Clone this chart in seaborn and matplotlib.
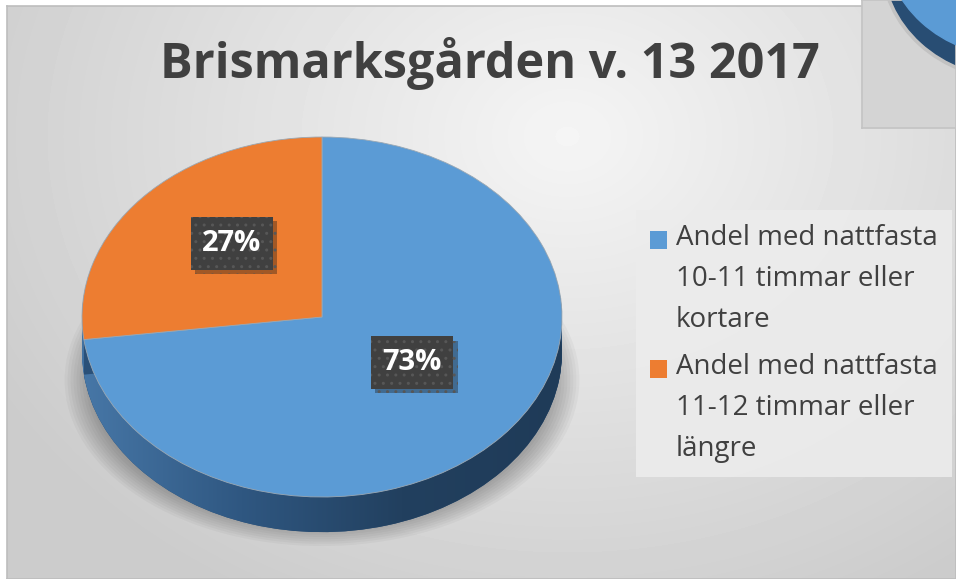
import matplotlib
matplotlib.use("Agg")
import matplotlib.pyplot as plt
import matplotlib.patheffects as pe
import matplotlib.transforms as mtransforms
import numpy as np
import seaborn as sns
from matplotlib.colors import LinearSegmentedColormap
from matplotlib.patches import Patch, Rectangle, Ellipse
from matplotlib.legend_handler import HandlerPatch

sns.set_theme(style="white")
plt.rcParams['font.family'] = ['Open Sans', 'DejaVu Sans']

# data
title = "Brismarksgården v. 13 2017"
categories = ["Andel med nattfasta\n10-11 timmar eller\nkortare",
              "Andel med nattfasta\n11-12 timmar eller\nlängre"]
shares = [73, 27]
top_colors = ["#5B9BD5", "#ED7D31"]
side_colors = ["#2a5078", "#4272a2"]

W, H = 956, 579
fig = plt.figure(figsize=(W / 100, H / 100), dpi=100)
fig.patch.set_facecolor("white")


def fx(px):
    return px / W


def fh(px):
    return px / H


# background panel with soft radial gradient
bg = fig.add_axes([fx(7), 0, 1 - fx(7), 1 - fh(6)])
yy, xx = np.mgrid[0:573, 0:949]
d = np.clip(np.hypot((xx - 560) / 650, (yy - 130) / 520), 0, 1)
bg.imshow(0.96 - 0.16 * d, cmap="gray", vmin=0, vmax=1, aspect="auto")
bg.set_xticks([])
bg.set_yticks([])
for s in bg.spines.values():
    s.set_color("#bdbdbd")
    s.set_linewidth(1.2)

# corner of the neighbouring chart (top right)
ins = fig.add_axes([fx(862), 1 - fh(128), fx(94), fh(128)])
ins.set_xlim(0, 94)
ins.set_ylim(128, 0)
ins.set_facecolor("#d4d4d4")
ins.add_patch(Ellipse((150, -38), 262, 236, color="#c2c2c2", zorder=1))
ins.add_patch(Ellipse((150, -40), 256, 233, color="#284d73", zorder=2))
ins.add_patch(Ellipse((150, -60), 256, 233, color="#5B9BD5", zorder=3))
ins.set_xticks([])
ins.set_yticks([])
for s in ins.spines.values():
    s.set_color("#c4c4c4")

# pie axes: x radius 240 px, y radius 180 px, centre at (322, 317)
ylo, yhi = -1.45, 1.2
ax = fig.add_axes([fx(22), 1 - fh(317 - ylo * 180), fx(600), fh((yhi - ylo) * 180)])
ax.patch.set_alpha(0)
depth = 0.195

# soft shadow under the pie
for k in range(10):
    ax.add_patch(Ellipse((0, -0.35), 1.92 + 0.025 * k, 1.62 + 0.025 * k,
                         color="black", alpha=0.03, lw=0, zorder=0))

# side of the 3d pie, stacked layers
bottom = None
for z in np.linspace(-depth, 0, 40)[:-1]:
    w, _ = ax.pie(shares, colors=side_colors, startangle=90, counterclock=False,
                  center=(0, z), wedgeprops=dict(linewidth=0))
    if bottom is None:
        bottom = w[0]

# horizontal shading on the front side
side_cmap = LinearSegmentedColormap.from_list(
    "side", ["#4777a7", "#2f5781", "#22405f", "#1f3b58"])
grad = np.linspace(0, 1, 256)[None, :]
img = ax.imshow(grad, cmap=side_cmap, extent=(-1, 1, -1.3, 0.2),
                aspect="auto", zorder=1.5)
img.set_clip_path(bottom)

wedges, texts, autotexts = ax.pie(
    shares, colors=top_colors, startangle=90, counterclock=False,
    autopct="%1.0f%%", pctdistance=0.5,
    wedgeprops=dict(linewidth=0.6, edgecolor="#9aa8b4"),
    textprops=dict(color="white", fontsize=21, fontweight="bold"))
for wd in wedges:
    wd.set_zorder(2)
lift = mtransforms.ScaledTranslation(0, 14 / 100, fig.dpi_scale_trans)
for t in autotexts:
    t.set_zorder(3)
    t.set_transform(t.get_transform() + lift)
    t.set_bbox(dict(boxstyle="square,pad=0.4", fc="#404040", ec="#575757",
                    lw=0, hatch=".."))
    t.get_bbox_patch().set_path_effects(
        [pe.SimplePatchShadow(offset=(3, -3), alpha=0.35), pe.Normal()])

ax.set_aspect("auto")
ax.set_xlim(-1.25, 1.25)
ax.set_ylim(ylo, yhi)
ax.axis("off")

fig.text(fx(490), 1 - fh(64), title, ha="center", va="center",
         fontsize=35, fontweight="bold", color="#404040")

fs = 20


class TopSquare(HandlerPatch):
    # square next to the first line of a multi-line label
    def create_artists(self, legend, orig_handle, xdescent, ydescent,
                       width, height, fontsize, trans):
        r = Rectangle((-xdescent, -ydescent + 28.8), width, height,
                      facecolor=orig_handle.get_facecolor(), lw=0, transform=trans)
        return [r]


handles = [Patch(color=c) for c in top_colors]
leg = fig.legend(handles, categories, loc="upper left",
                 bbox_to_anchor=(fx(636), 1 - fh(210)), fontsize=fs,
                 frameon=True, fancybox=False, borderpad=0.5, borderaxespad=0,
                 handlelength=0.62, handleheight=0.62, handletextpad=0.32,
                 labelspacing=0.68, labelcolor="#404040",
                 handler_map={Patch: TopSquare()})
leg.get_frame().set_facecolor("#ececec")
leg.get_frame().set_edgecolor("none")
leg.get_frame().set_alpha(0.9)
for t in leg.get_texts():
    t.set_linespacing(1.62)

fig.savefig("out.png", dpi=100)
